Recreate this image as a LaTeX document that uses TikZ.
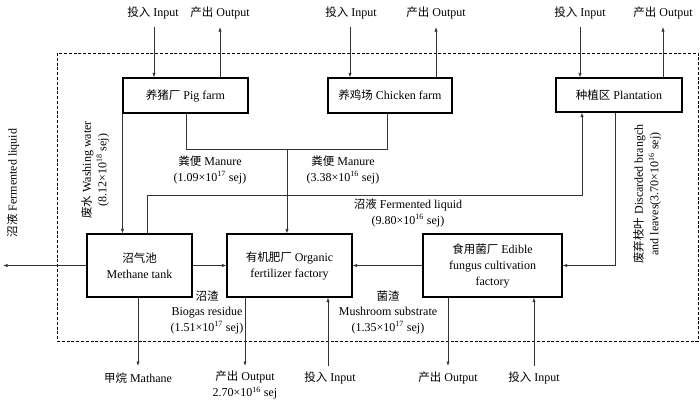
\documentclass[tikz,border=0pt]{standalone}
\usepackage{fontspec}
\setmainfont{Liberation Serif}
\newfontfamily\cjk{Noto Sans CJK SC}
\newcommand{\zhtext}[1]{{\cjk\fontsize{11.5}{15}\selectfont #1}}
\usetikzlibrary{arrows.meta}
\begin{document}
\begin{tikzpicture}[x=1pt,y=-1pt,
  box/.style={draw=black,line width=1.1pt,inner sep=1pt,align=center,font=\fontsize{12}{16}\selectfont},
  arr/.style={draw=black!80,line width=0.6pt,-{Latex[length=4.5pt,width=3.2pt]}},
  con/.style={draw=black!80,line width=0.6pt},
  lab/.style={inner sep=0pt,align=center,font=\fontsize{12}{15.5}\selectfont}]
\useasboundingbox (0,0) rectangle (700,402);
\draw[line width=0.8pt,dash pattern=on 3pt off 1.8pt] (57,53) rectangle (698,341);

% boxes
\node[box,minimum width=125pt,minimum height=35pt] (pig) at (185.5,95.5) {\zhtext{养猪厂} Pig farm};
\node[box,minimum width=124pt,minimum height=35pt] (chick) at (390,95.5) {\zhtext{养鸡场} Chicken farm};
\node[box,minimum width=126pt,minimum height=34pt] (plant) at (619,95) {\zhtext{种植区} Plantation};
\node[box,minimum width=105pt,minimum height=63pt] (meth) at (139.5,265.5) {\zhtext{沼气池}\\Methane tank};
\node[box,minimum width=125pt,minimum height=63pt] (org) at (289.5,265.5) {\zhtext{有机肥厂} Organic\\fertilizer factory};
\node[box,minimum width=139pt,minimum height=63pt] (edi) at (492.5,265.5) {\zhtext{食用菌厂} Edible\\fungus cultivation\\factory};

% top inputs/outputs
\coordinate (pigIn) at (154,27);
\coordinate (pigOut) at (220,27);
\coordinate (chIn) at (350,27);
\coordinate (chOut) at (436,27);
\coordinate (plIn) at (580,27);
\coordinate (plOut) at (663,27);
\node[lab] (tPigIn) at (153,13) {\zhtext{投入} Input};
\node[lab] (tPigOut) at (220,13) {\zhtext{产出} Output};
\node[lab] (tChIn) at (351,13) {\zhtext{投入} Input};
\node[lab] (tChOut) at (436,13) {\zhtext{产出} Output};
\node[lab] (tPlIn) at (580,13) {\zhtext{投入} Input};
\node[lab] (tPlOut) at (663,13) {\zhtext{产出} Output};
\draw[arr] (pigIn) -- (pigIn |- pig.north);
\draw[arr] (pig.north -| pigOut) -- (pigOut);
\draw[arr] (chIn) -- (chIn |- chick.north);
\draw[arr] (chick.north -| chOut) -- (chOut);
\draw[arr] (plIn) -- (plIn |- plant.north);
\draw[arr] (plant.north -| plOut) -- (plOut);

% manure
\coordinate (mL) at (186,149);
\coordinate (mR) at (387,149);
\coordinate (mJ) at (287,149);
\draw[con] (pig.south -| mL) -- (mL) -- (mR) -- (mR |- chick.south);
\draw[arr] (mJ) -- (mJ |- org.north);
\node[lab] (tMan1) at (210,170) {\zhtext{粪便} Manure\\(1.09×10\textsuperscript{17} sej)};
\node[lab] (tMan2) at (343,170) {\zhtext{粪便} Manure\\(3.38×10\textsuperscript{16} sej)};

% washing water
\draw[arr] (pig.south west) -- (pig.south west |- meth.north);
\node[lab,rotate=90] (tWash) at (95,170) {\zhtext{废水} Washing water\\(8.12×10\textsuperscript{18} sej)};

% fermented liquid to plantation
\coordinate (f1) at (147,195);
\coordinate (f2) at (582,195);
\draw[arr] (meth.north -| f1) -- (f1) -- (f2) -- (f2 |- plant.south);
\node[lab] (tFer) at (408,213) {\zhtext{沼液} Fermented liquid\\(9.80×10\textsuperscript{16} sej)};

% discarded branches
\coordinate (db) at (615,265.5);
\draw[arr] (plant.south -| db) -- (db) -- (edi.east);
\node[lab,rotate=90] (tDis) at (647,194) {\zhtext{废弃枝叶} Discarded brangch\\and leaves(3.70×10\textsuperscript{16} sej)};

% fermented liquid out
\coordinate (fOut) at (3,265.5);
\draw[arr] (meth.west) -- (fOut);
\node[lab,rotate=90] (tFerOut) at (13,183) {\zhtext{沼液} Fermented liquid};

% horizontal flows
\draw[arr] (meth.east) -- (org.west);
\draw[arr] (edi.west) -- (org.east);
\node[lab] (tBio) at (207,312) {\zhtext{沼渣}\\Biogas residue\\(1.51×10\textsuperscript{17} sej)};
\node[lab] (tMush) at (388,312) {\zhtext{菌渣}\\Mushroom substrate\\(1.35×10\textsuperscript{17} sej)};

% bottom
\coordinate (bMeth) at (138,366);
\coordinate (bOrgOut) at (245,366);
\coordinate (bOrgIn) at (328,366);
\coordinate (bEdiOut) at (448,366);
\coordinate (bEdiIn) at (534,366);
\draw[arr] (meth.south -| bMeth) -- (bMeth);
\draw[arr] (org.south -| bOrgOut) -- (bOrgOut);
\draw[arr] (bOrgIn) -- (bOrgIn |- org.south);
\draw[arr] (edi.south -| bEdiOut) -- (bEdiOut);
\draw[arr] (bEdiIn) -- (bEdiIn |- edi.south);
\node[lab] (tMeth) at (138,378) {\zhtext{甲烷} Mathane};
\node[lab,anchor=north] (tOrgOut) at (245,371) {\zhtext{产出} Output\\2.70×10\textsuperscript{16} sej};
\node[lab] (tOrgIn) at (330,378) {\zhtext{投入} Input};
\node[lab] (tEdiOut) at (448,378) {\zhtext{产出} Output};
\node[lab] (tEdiIn) at (534,378) {\zhtext{投入} Input};
\end{tikzpicture}
\end{document}
